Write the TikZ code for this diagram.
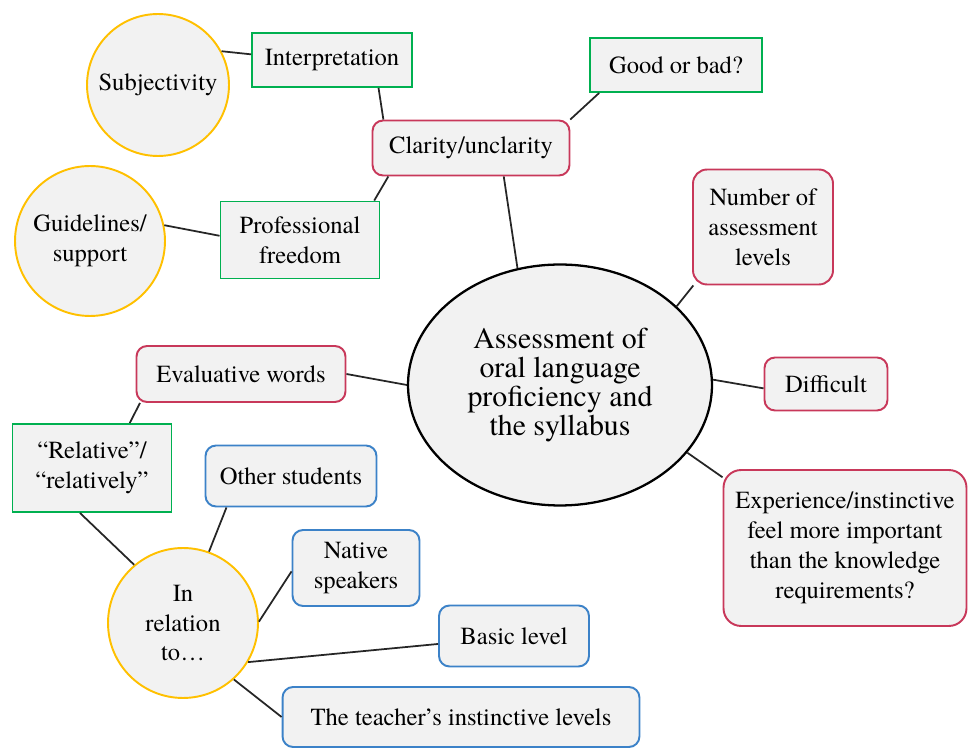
\documentclass[tikz,border=0pt]{standalone}
\usepackage{fontspec}
\setmainfont{TeX Gyre Termes}
\usepackage{tikz}
\usetikzlibrary{
    shapes.geometric,positioning
}
\definecolor{nodefill}{HTML}{F2F2F2}
\definecolor{goldline}{HTML}{FFC000}
\definecolor{greenline}{HTML}{00B050}
\definecolor{redline}{HTML}{C8385A}
\definecolor{blueline}{HTML}{3C82C8}
\tikzset{
    bubble/.style={circle, draw=goldline, line width=1.1pt, fill=nodefill, inner sep=0pt, align=center, minimum size=3cm, font=\fontsize{14}{17}\selectfont},
    greenbox/.style={rectangle, draw=greenline, line width=1.1pt, fill=nodefill, align=center, font=\fontsize{14}{17}\selectfont},
    redbox/.style={rectangle, rounded corners=6pt, draw=redline, line width=1.1pt, fill=nodefill, align=center, font=\fontsize{14}{17}\selectfont},
    bluebox/.style={rectangle, rounded corners=6pt, draw=blueline, line width=1.1pt, fill=nodefill, align=center, font=\fontsize{14}{17}\selectfont},
    topic/.style={ellipse, draw=black, line width=1.3pt, fill=nodefill, align=center, inner sep=0pt, minimum width=6.08cm, minimum height=4.82cm, font=\fontsize{17}{16.5}\selectfont},
    line/.style={draw=black!85, line width=1pt},
}
\begin{document}
\begin{tikzpicture}
        [x=0.02cm, y=-0.02cm]
        \useasboundingbox (0,0) rectangle (968,749);

        % Nodes of the mind map
        \node[topic] (topic) at (560,385) {Assessment of\\oral language\\proficiency and\\the syllabus};
        \node[bubble, minimum size=2.84cm] (subj) at (158,85) {Subjectivity};
        \node[greenbox, minimum width=3.2cm, minimum height=1.08cm] (interp) at (332,60) {Interpretation};
        \node[greenbox, minimum width=3.44cm, minimum height=1.08cm] (good) at (676,65) {Good or bad?};
        \node[redbox, minimum width=3.94cm, minimum height=1.1cm] (clarity) at (471,148) {Clarity/unclarity};
        \node[bubble] (guide) at (90,241) {Guidelines/\\support};
        \node[greenbox, minimum width=3.18cm, minimum height=1.54cm] (freedom) at (300,240) {Professional\\freedom};
        \node[redbox, rounded corners=8pt, minimum width=2.8cm, minimum height=2.3cm] (levels) at (763,227) {Number of\\assessment\\levels};
        \node[redbox, minimum width=4.18cm, minimum height=1.12cm] (evalw) at (241,374) {Evaluative words};
        \node[redbox, minimum width=2.46cm, minimum height=1.06cm] (diff) at (826,384) {Difficult};
        \node[redbox, rounded corners=10pt, minimum width=4.86cm, minimum height=3.12cm] (exper) at (845,548) {Experience/instinctive\\feel more important\\than the knowledge\\requirements?};
        \node[greenbox, minimum width=3.18cm, minimum height=1.76cm] (relw) at (92,468) {“Relative”/\\“relatively”};
        \node[bluebox, minimum width=3.42cm, minimum height=1.22cm] (others) at (291,476) {Other students};
        \node[bluebox, minimum width=2.54cm, minimum height=1.52cm] (native) at (356,568) {Native\\speakers};
        \node[bubble] (inrel) at (183,623) {In\\relation\\to…};
        \node[bluebox, minimum width=3.0cm, minimum height=1.22cm] (basic) at (514,636) {Basic level};
        \node[bluebox, minimum width=7.14cm, minimum height=1.2cm] (teacher) at (461,717) {The teacher’s instinctive levels};

        % Lines
        \draw[line] (subj.28) -- (interp.176);
        \draw[line] (interp.-31) -- (clarity.162);
        \draw[line] (clarity.16) -- (good.-160);
        \draw[line] (clarity.-161) -- (freedom.28);
        \draw[line] (guide.12) -- (freedom.177);
        \draw[line] (clarity.-41) -- (topic.110);
        \draw[line] (topic.34) -- (levels.-140);
        \draw[line] (topic.2) -- (diff.184);
        \draw[line] (topic.-28) -- (exper.150);
        \draw[line] (topic.180) -- (evalw.east);
        \draw[line] (evalw.-164) -- (relw.50);
        \draw[line] (relw.-105) -- (inrel.130);
        \draw[line] (inrel.70) -- (others.-154);
        \draw[line] (inrel.1) -- (native.-177);
        \draw[line] (inrel.-31) -- (basic.-174);
        \draw[line] (inrel.-48) -- (teacher.west);

    \end{tikzpicture}
\end{document}
